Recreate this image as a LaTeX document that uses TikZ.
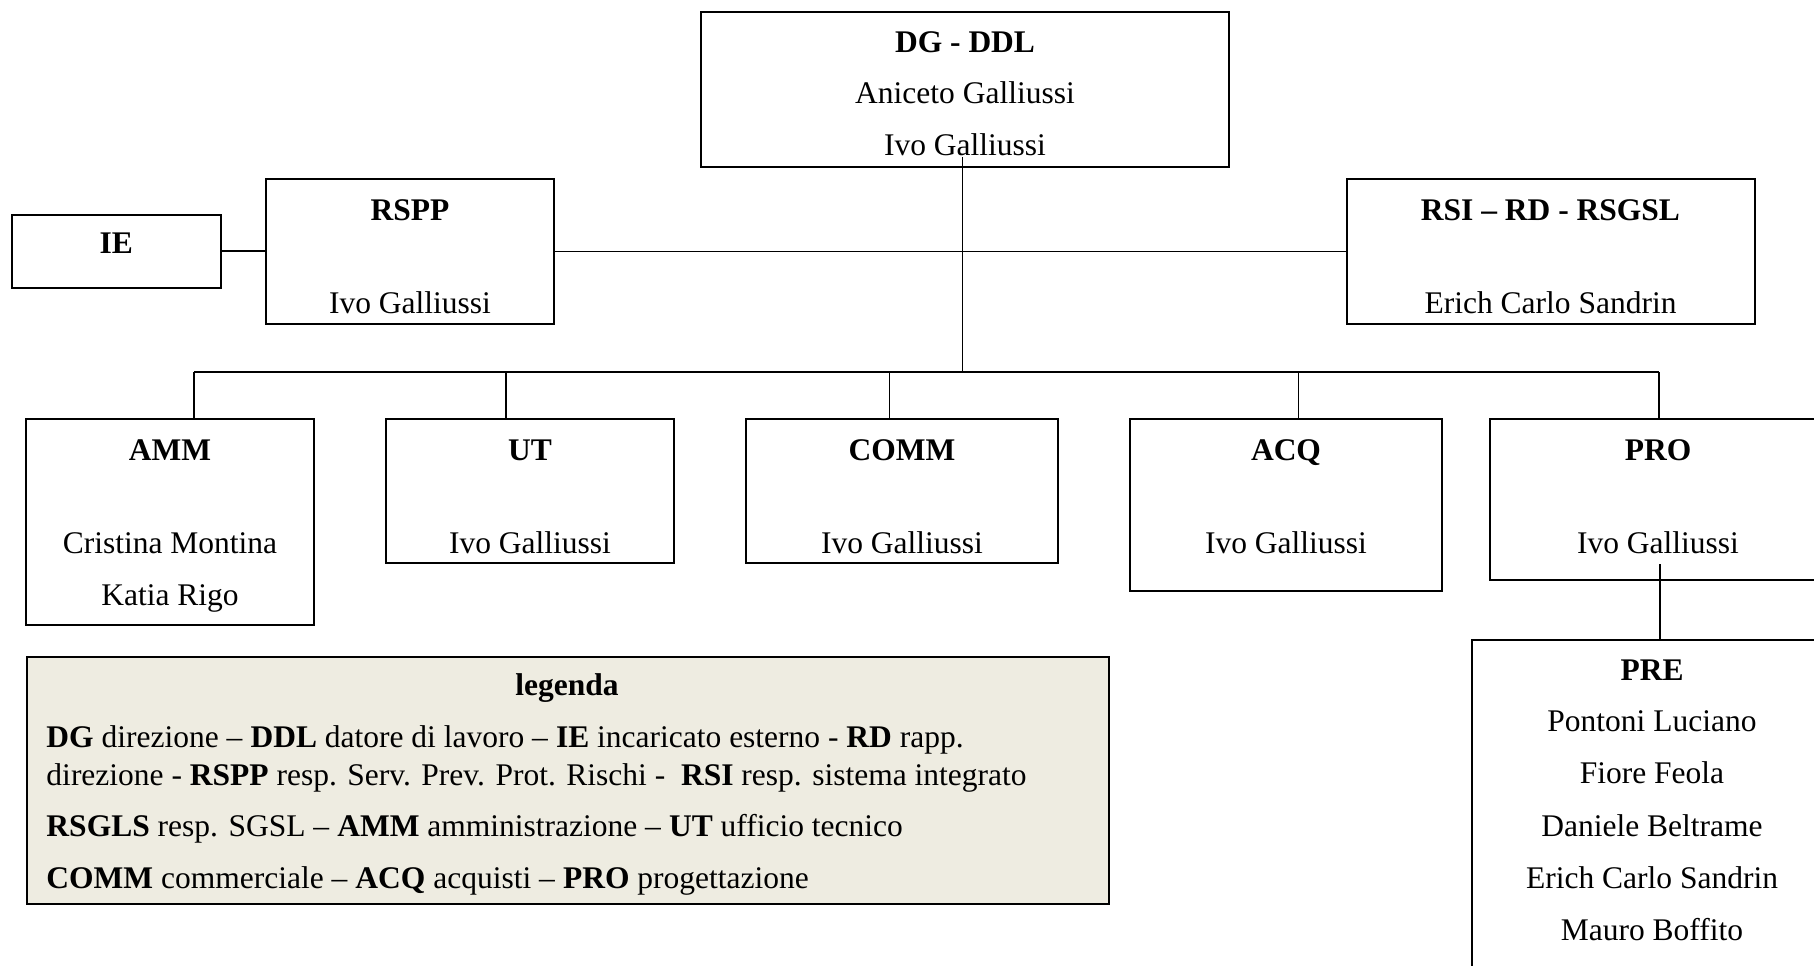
\documentclass[tikz,border=0pt]{standalone}
\usepackage{fontspec}
\setmainfont{Liberation Serif}
\definecolor{legbg}{RGB}{238,236,225}
\begin{document}
\begin{tikzpicture}[x=0.4pt,y=-0.4pt,
  box/.style={draw,line width=0.8pt,inner sep=0pt,rectangle},
  sz/.style args={#1/#2}{minimum width=#1*0.4pt,minimum height=#2*0.4pt},
  txt/.style={anchor=base,inner sep=0pt,font=\fontsize{12.6}{14}\selectfont},
  ttl/.style={anchor=base,inner sep=0pt,font=\fontsize{12.6}{14}\selectfont\bfseries},
  legl/.style={anchor=base west,inner sep=0pt,font=\fontsize{12.6}{14}\selectfont},
  link/.style={line width=0.65pt}]
\useasboundingbox (0,0) rectangle (1814,966);
\fill[white] (0,0) rectangle (1814,966);

% boxes
\node[box,sz=528/155] (dg) at (965,89.2) {};
\node[box,sz=209.4/72.7] (ie) at (116.3,251.4) {};
\node[box,sz=288/144.7] (rspp) at (410,251.4) {};
\node[box,sz=408/144.7] (rsi) at (1550.5,251.4) {};
\node[box,sz=288/205.7] (amm) at (170,521.9) {};
\node[box,sz=288/144] (ut) at (530,491) {};
\node[box,sz=312/144] (comm) at (902,491) {};
\node[box,sz=312/172] (acq) at (1286,505) {};
\node[box,sz=336/161] (pro) at (1658,499.5) {};
\node[box,sz=360/400,anchor=north] (pre) at (1652,639) {};
\node[box,fill=legbg,sz=1082/247,anchor=north west] (leg) at (26,655.5) {};

% texts
\node[ttl] (dgt) at (965,53) {DG - DDL};
\node[txt] (dgn1) at (965,104) {Aniceto Galliussi};
\node[txt] (dgn2) at (965,156) {Ivo Galliussi};
\node[ttl] (iet) at (116.3,254) {IE};
\node[ttl] (rsppt) at (410,220.5) {RSPP};
\node[txt] (rsppn) at (410,313) {Ivo Galliussi};
\node[ttl] (rsit) at (1550.5,220.5) {RSI -- RD - RSGSL};
\node[txt] (rsin) at (1550.5,313) {Erich Carlo Sandrin};
\node[ttl] (ammt) at (170,460) {AMM};
\node[txt] (ammn1) at (170,553) {Cristina Montina};
\node[txt] (ammn2) at (170,605) {Katia Rigo};
\node[ttl] (utt) at (530,460) {UT};
\node[txt] (utn) at (530,553) {Ivo Galliussi};
\node[ttl] (commt) at (902,460) {COMM};
\node[txt] (commn) at (902,553) {Ivo Galliussi};
\node[ttl] (acqt) at (1286,460) {ACQ};
\node[txt] (acqn) at (1286,553) {Ivo Galliussi};
\node[ttl] (prot) at (1658,460) {PRO};
\node[txt] (pron) at (1658,553) {Ivo Galliussi};
\node[ttl] (pret) at (1652,680) {PRE};
\node[txt] (pre1) at (1652,731.5) {Pontoni Luciano};
\node[txt] (pre2) at (1652,783) {Fiore Feola};
\node[txt] (pre3) at (1652,836.5) {Daniele Beltrame};
\node[txt] (pre4) at (1652,888) {Erich Carlo Sandrin};
\node[txt] (pre5) at (1652,940.5) {Mauro Boffito};

\node[ttl] (legt) at (567,695) {legenda};
\node[legl] (leg1) at (46,747.5) {\textbf{DG} direzione -- \textbf{DDL} datore di lavoro -- \textbf{IE} incaricato esterno - \textbf{RD} rapp.};
\node[legl] (leg2) at (46,785) {direzione - \textbf{RSPP} resp. Serv. Prev. Prot. Rischi -\ \ \textbf{RSI} resp. sistema integrato};
\node[legl] (leg3) at (46,836.5) {\textbf{RSGLS} resp. SGSL -- \textbf{AMM} amministrazione -- \textbf{UT} ufficio tecnico};
\node[legl] (leg4) at (46,888) {\textbf{COMM} commerciale -- \textbf{ACQ} acquisti -- \textbf{PRO} progettazione};

% connectors
\coordinate (dgtail) at (962.5,157);
\coordinate (busj) at (962.5,372);
\coordinate (b1) at (194,372);
\coordinate (b2) at (506,372);
\coordinate (b3) at (889.6,372);
\coordinate (b4) at (1298.6,372);
\coordinate (b5) at (1659,372);
\coordinate (protail) at (1659.7,564);
\draw[link] (dgtail) -- (busj);
\draw[link] (rspp.east) -- (rsi.west);
\draw[line width=0.85pt] (ie.east) -- (ie.east -| rspp.west);
\draw[link] (b1) -- (b5);
\draw[link] (b1) -- (b1 |- amm.north);
\draw[link] (b2) -- (b2 |- ut.north);
\draw[link] (b3) -- (b3 |- comm.north);
\draw[link] (b4) -- (b4 |- acq.north);
\draw[link] (b5) -- (b5 |- pro.north);
\draw[link] (protail) -- (protail |- pre.north);
\end{tikzpicture}
\end{document}
